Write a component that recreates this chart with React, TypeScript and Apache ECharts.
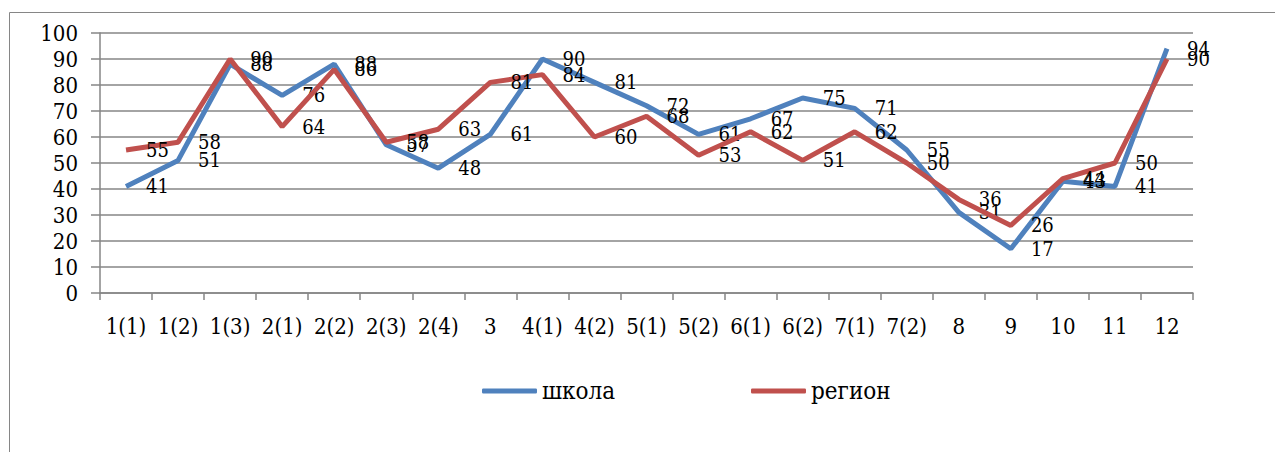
import React, { useEffect, useRef } from "react";
import * as echarts from "echarts";

const categories = ["1(1)", "1(2)", "1(3)", "2(1)", "2(2)", "2(3)", "2(4)", "3", "4(1)", "4(2)", "5(1)", "5(2)", "6(1)", "6(2)", "7(1)", "7(2)", "8", "9", "10", "11", "12"];
const school = [41, 51, 88, 76, 88, 57, 48, 61, 90, 81, 72, 61, 67, 75, 71, 55, 31, 17, 43, 41, 94];
const region = [55, 58, 90, 64, 86, 58, 63, 81, 84, 60, 68, 53, 62, 51, 62, 50, 36, 26, 44, 50, 90];
const seriesNames = ["школа", "регион"];

const FONT = "DejaVu Serif Condensed, DejaVu Serif";
const GRID = "#868686";

export default function App() {
  const ref = useRef<HTMLDivElement>(null);
  useEffect(() => {
    const chart = echarts.init(ref.current!, null, { renderer: "svg" });
    const label = {
      show: true,
      position: "right",
      distance: 20,
      color: "#000",
      fontFamily: FONT,
      fontSize: 20,
    };
    const legendText = { fontFamily: FONT, fontSize: 24, color: "#000" };
    chart.setOption({
      animation: false,
      backgroundColor: "#fff",
      textStyle: { fontFamily: FONT },
      graphic: [
        {
          type: "rect",
          shape: { x: 9.5, y: 12.5, width: 1300, height: 500 },
          style: { fill: "none", stroke: GRID, lineWidth: 1 },
          silent: true,
        },
      ],
      grid: { left: 100, right: 82, top: 33, bottom: 159, containLabel: false },
      legend: [
        {
          data: [seriesNames[0]],
          left: 477,
          top: 374,
          icon: "roundRect",
          itemWidth: 55,
          itemHeight: 5,
          itemGap: 0,
          textStyle: legendText,
        },
        {
          data: [seriesNames[1]],
          left: 746,
          top: 374,
          icon: "roundRect",
          itemWidth: 55,
          itemHeight: 5,
          itemGap: 0,
          textStyle: legendText,
        },
      ],
      xAxis: {
        type: "category",
        data: categories,
        boundaryGap: true,
        axisLine: { lineStyle: { color: GRID, width: 1.5 } },
        axisTick: { show: true, length: 7, inside: false, lineStyle: { color: GRID, width: 1.5 } },
        axisLabel: { color: "#000", fontFamily: FONT, fontSize: 22, margin: 22, interval: 0 },
      },
      yAxis: {
        type: "value",
        min: 0,
        max: 100,
        interval: 10,
        axisLine: { show: true, lineStyle: { color: GRID, width: 1.5 } },
        axisTick: { show: true, length: 9, lineStyle: { color: GRID, width: 1.5 } },
        axisLabel: { color: "#000", fontFamily: FONT, fontSize: 22, margin: 22 },
        splitLine: { show: true, lineStyle: { color: GRID, width: 1.5 } },
      },
      series: [
        {
          name: seriesNames[0],
          type: "line",
          data: school,
          symbol: "circle",
          symbolSize: 0.1,
          showSymbol: true,
          lineStyle: { color: "#4F81BD", width: 5 },
          itemStyle: { color: "#4F81BD" },
          label,
          labelLayout: { hideOverlap: false },
          z: 2,
        },
        {
          name: seriesNames[1],
          type: "line",
          data: region,
          symbol: "circle",
          symbolSize: 0.1,
          showSymbol: true,
          lineStyle: { color: "#C0504D", width: 5 },
          itemStyle: { color: "#C0504D" },
          label,
          labelLayout: { hideOverlap: false },
          z: 3,
        },
      ],
    });
    return () => chart.dispose();
  }, []);
  return (
    <div
      ref={ref}
      style={{ position: "fixed", left: 0, top: 0, width: 1275, height: 452 }}
    />
  );
}
